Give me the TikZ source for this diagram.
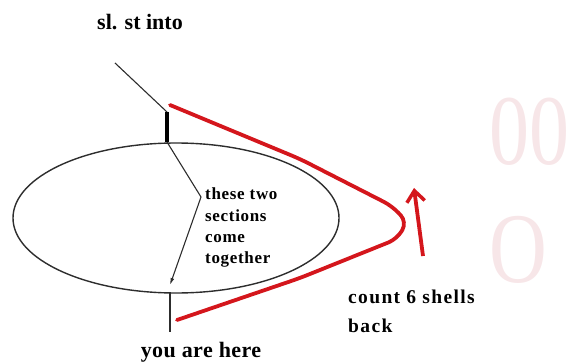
\documentclass[tikz,border=0pt]{standalone}
\usepackage{fontspec}
\setmainfont{Liberation Serif}
\usetikzlibrary{arrows.meta}
\definecolor{pen}{RGB}{45,45,45}
\definecolor{redpen}{RGB}{212,22,28}
\definecolor{ghost}{RGB}{247,230,232}
\begin{document}
\begin{tikzpicture}[x=1pt,y=-1pt,
  thinline/.style={draw=pen, line width=1.1pt},
  redline/.style={draw=redpen, line width=3.8pt, line cap=round, line join=round},
  lbl/.style={inner sep=0pt, text=black, anchor=base west},
  smallfont/.style={font=\bfseries\fontsize{17}{21}\selectfont\addfontfeatures{LetterSpace=4}},
  midfont/.style={font=\bfseries\fontsize{19.5}{29}\selectfont\addfontfeatures{LetterSpace=7}},
  ghosttext/.style={inner sep=0pt, text=ghost, font=\fontsize{100}{100}\selectfont, xscale=0.8, anchor=base west}]
\useasboundingbox (0,0) rectangle (569,363);
% faint background marks
\node[ghosttext] (g1) at (489,165) {00};
\node[ghosttext] (g2) at (489,282) {O};
% ellipse
\draw[draw=pen, line width=1.4pt] (176,218) ellipse [x radius=163, y radius=75];
% coordinates of the sketch
\coordinate (s0) at (115,63);
\coordinate (s1) at (167,112);
\coordinate (s2) at (167,142);
\coordinate (s3) at (201,197);
\coordinate (s4) at (170,285);
\coordinate (s5) at (170,292);
\coordinate (s6) at (170,332);
\draw[thinline] (s0) -- (s1);
\draw[draw=black, line width=3.5pt] (s1) -- (s2);
\draw[thinline, -{Latex[length=7pt,width=4pt]}] (s2) -- (s3) -- (s4);
\draw[thinline] (s5) -- (s6);
% red V
\coordinate (r0) at (170,105);
\coordinate (r1) at (300,159);
\coordinate (r2) at (392,206);
\coordinate (r3) at (407,222);
\coordinate (r4) at (397,239);
\coordinate (r5) at (300,278);
\coordinate (r6) at (177,320);
\draw[redline, rounded corners=9pt] (r0) -- (r1) -- (r2) -- (r3) -- (r4) -- (r5) -- (r6);
% red arrow
\coordinate (a0) at (423,256);
\coordinate (a1) at (414,188);
\draw[redline, line cap=butt, -{Straight Barb[length=11pt,width=18pt,line width=3.5pt]}] (a0) -- (a1);
% labels
\node[lbl, anchor=base, font=\bfseries\fontsize{22}{26}\selectfont] (t1) at (140,30) {sl. st into};
\node[lbl, smallfont] (t2a) at (205,200) {these two};
\node[lbl, smallfont] (t2b) at (205,221) {sections};
\node[lbl, smallfont] (t2c) at (205,242) {come};
\node[lbl, smallfont] (t2d) at (205,263) {together};
\node[lbl, midfont] (t3a) at (348,303) {count 6 shells};
\node[lbl, midfont] (t3b) at (348,332) {back};
\node[lbl, anchor=base, font=\bfseries\fontsize{22}{26}\selectfont\addfontfeatures{LetterSpace=2}] (t4) at (201,357) {you are here};
\end{tikzpicture}
\end{document}
